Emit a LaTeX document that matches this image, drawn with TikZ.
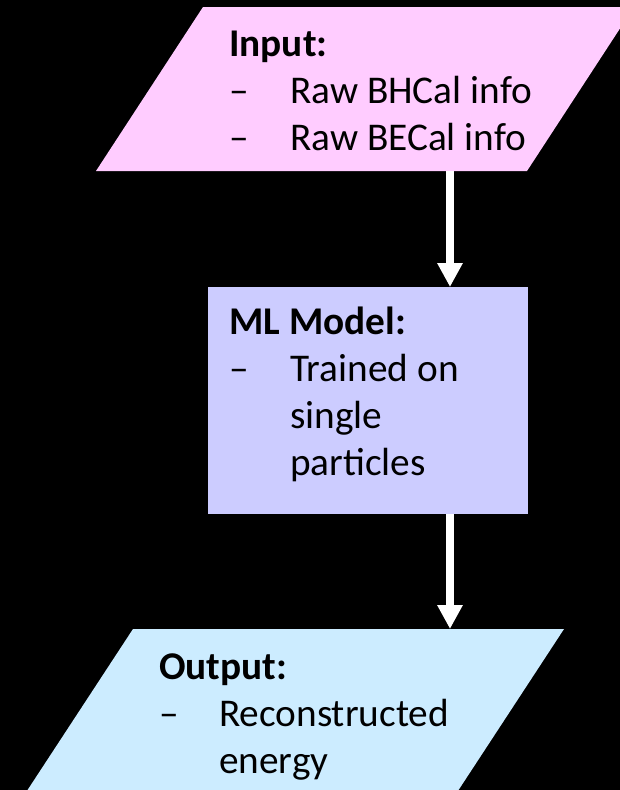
\documentclass[tikz,border=0pt]{standalone}
\usepackage{fontspec}
\setmainfont{Carlito}
\usetikzlibrary{arrows.meta}
\definecolor{inpink}{HTML}{FFCCFF}
\definecolor{mlblue}{HTML}{CCCCFF}
\definecolor{outblue}{HTML}{CCECFF}
\begin{document}
\begin{tikzpicture}[x=1pt,y=-1pt,
  lbl/.style={anchor=base west, inner sep=0pt, text=black,
    font=\fontsize{39.3}{47}\selectfont},
  head/.style={lbl, font=\fontsize{39.3}{47}\selectfont\bfseries},
  flow/.style={draw=white, line width=8pt,
    -{Triangle[width=24pt,length=24pt]}}]
% page background
\fill[black] (0,0) rectangle (620,790);
\useasboundingbox (0,0) rectangle (620,790);
% input and output parallelograms, running off the page edges
\begin{scope}
  \clip (0,0) rectangle (620,790);
  \fill[inpink] (203,7) -- (634,7) -- (527,171) -- (96,171) -- cycle;
  \fill[outblue] (133,629) -- (564,629) -- (452,800) -- (21,800) -- cycle;
\end{scope}
% model box
\node[fill=mlblue, minimum width=320pt, minimum height=227pt, inner sep=0pt,
      anchor=north west] (ml) at (208,287) {};
% connector end points on the parallelograms
\coordinate (inbot) at (450,171);
\coordinate (outtop) at (450,629);
\draw[flow] (inbot) -- (inbot |- ml.north);
\draw[flow] (ml.south -| inbot) -- (outtop);
% input text
\node[head] (inhead) at (229,56) {Input:};
\node[lbl] (indash1) at (229,103) {–};
\node[lbl] (inhcal) at (290,103) {Raw BHCal info};
\node[lbl] (indash2) at (229,150) {–};
\node[lbl] (inecal) at (290,150) {Raw BECal info};
% model text
\node[head] (mlhead) at (229,334) {ML Model:};
\node[lbl] (mldash) at (229,381) {–};
\node[lbl] (mlline1) at (290,381) {Trained on};
\node[lbl] (mlline2) at (290,428) {single};
\node[lbl] (mlline3) at (290,475) {particles};
% output text
\node[head] (outhead) at (159,679) {Output:};
\node[lbl] (outdash) at (159,726) {–};
\node[lbl] (outline1) at (219,726) {Reconstructed};
\node[lbl] (outline2) at (219,773) {energy};
\end{tikzpicture}
\end{document}
